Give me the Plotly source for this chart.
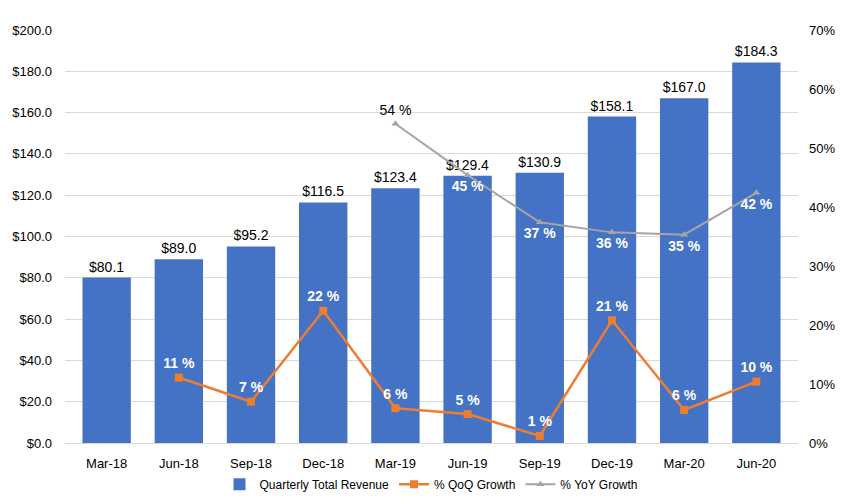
import plotly.graph_objects as go

quarters = ["Mar-18", "Jun-18", "Sep-18", "Dec-18", "Mar-19", "Jun-19",
            "Sep-19", "Dec-19", "Mar-20", "Jun-20"]
revenue = [80.1, 89.0, 95.2, 116.5, 123.4, 129.4, 130.9, 158.1, 167.0, 184.3]
qoq = [None, 11.1, 7.0, 22.4, 5.9, 4.9, 1.2, 20.8, 5.6, 10.4]
yoy = [None, None, None, None, 54.1, 45.4, 37.4, 35.7, 35.3, 42.4]

qoq_text = ["" if v is None else f"<b>{v:.0f} %</b>" for v in qoq]
yoy_text = ["" if v is None else (f"{v:.0f} %" if v > 50 else f"<b>{v:.0f} %</b>") for v in yoy]
yoy_pos = ["top center" if (v is not None and v > 50) else "bottom center" for v in yoy]
yoy_col = ["black" if (v is not None and v > 50) else "white" for v in yoy]

FONT = "Arial, Liberation Sans, sans-serif"

fig = go.Figure()
fig.add_trace(go.Bar(
    x=quarters, y=revenue, name="Quarterly Total Revenue",
    marker=dict(color="#4472C4", line=dict(width=0)),
    text=[f"${v:.1f}" for v in revenue], textposition="outside",
    textfont=dict(size=14, color="black", family=FONT),
    cliponaxis=False,
))
fig.add_trace(go.Scatter(
    x=quarters, y=qoq, name="% QoQ Growth", yaxis="y2",
    mode="lines+markers+text",
    line=dict(color="#ED7D31", width=2.5),
    marker=dict(symbol="square", size=8, color="#ED7D31"),
    text=qoq_text, textposition="top center",
    textfont=dict(size=14, color="white", family=FONT),
    cliponaxis=False,
))
fig.add_trace(go.Scatter(
    x=quarters, y=yoy, name="% YoY Growth", yaxis="y2",
    mode="lines+markers+text",
    line=dict(color="#A5A5A5", width=2),
    marker=dict(symbol="triangle-up", size=7, color="#A5A5A5"),
    text=yoy_text, textposition=yoy_pos,
    textfont=dict(size=14, color=yoy_col, family=FONT),
    cliponaxis=False,
))

fig.update_layout(
    width=842, height=504,
    margin=dict(l=65, r=44, t=30, b=61, autoexpand=False),
    plot_bgcolor="white", paper_bgcolor="white",
    font=dict(family=FONT, size=13, color="black"),
    bargap=0.33,
    showlegend=True,
    legend=dict(orientation="h", x=0.5, xanchor="center", y=-0.065, yanchor="top",
                font=dict(size=12), traceorder="normal"),
    xaxis=dict(type="category", showgrid=False, showline=True,
               linecolor="#D9D9D9", ticks="", tickfont=dict(size=13),
               ticklabelstandoff=8),
    yaxis=dict(range=[0, 200], dtick=20, tickformat="$.1f", showgrid=True,
               gridcolor="#D9D9D9", zeroline=False, ticks="", tickfont=dict(size=13),
               ticklabelstandoff=12),
    yaxis2=dict(range=[0, 70], dtick=10, ticksuffix="%", overlaying="y",
                side="right", showgrid=False, zeroline=False, ticks="",
                tickfont=dict(size=13), ticklabelstandoff=10),
)

fig.write_html("out.html")
